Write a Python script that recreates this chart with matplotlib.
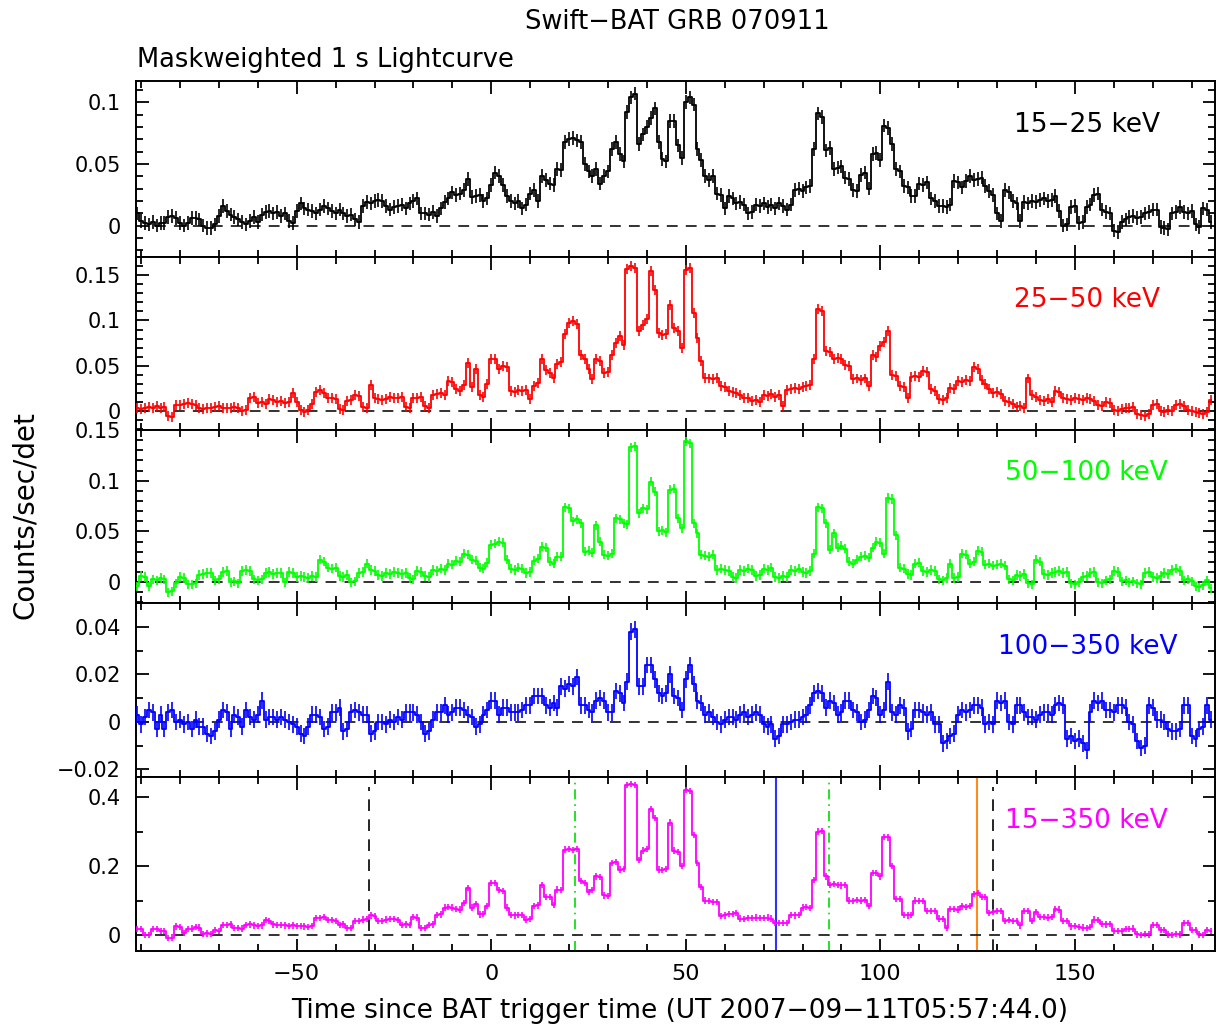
import numpy as np
import matplotlib
matplotlib.use("Agg")
import matplotlib.pyplot as plt
from matplotlib.ticker import MultipleLocator, FuncFormatter

# ---------------- data ----------------
t_first, t_last = -91, 185          # 1-s bin centres (s since trigger)

rate_15_25 = [
    0.010, 0.004, 0.002, 0.001, 0.003, 0.000, 0.002, 0.002, 0.007, 0.008,
    0.006, 0.002, 0.000, 0.002, 0.006, 0.006, 0.005, 0.000, -0.002, -0.002,
    0.001, 0.008, 0.016, 0.012, 0.009, 0.007, 0.005, 0.003, 0.001, 0.004,
    0.007, 0.003, 0.009, 0.011, 0.012, 0.010, 0.011, 0.008, 0.010, 0.004,
    0.002, 0.012, 0.018, 0.014, 0.013, 0.012, 0.010, 0.013, 0.016, 0.014,
    0.012, 0.010, 0.013, 0.010, 0.008, 0.009, 0.005, 0.003, 0.016, 0.019,
    0.018, 0.020, 0.021, 0.020, 0.016, 0.013, 0.015, 0.016, 0.017, 0.014,
    0.018, 0.020, 0.022, 0.010, 0.010, 0.009, 0.011, 0.008, 0.014, 0.019,
    0.022, 0.027, 0.025, 0.026, 0.029, 0.038, 0.023, 0.024, 0.025, 0.020,
    0.022, 0.033, 0.043, 0.040, 0.033, 0.024, 0.020, 0.018, 0.020, 0.014,
    0.017, 0.026, 0.029, 0.020, 0.040, 0.037, 0.034, 0.033, 0.046, 0.045,
    0.068, 0.070, 0.071, 0.069, 0.068, 0.050, 0.044, 0.040, 0.046, 0.034,
    0.040, 0.044, 0.062, 0.068, 0.058, 0.052, 0.092, 0.104, 0.107, 0.066,
    0.074, 0.080, 0.087, 0.095, 0.068, 0.054, 0.052, 0.085, 0.085, 0.065,
    0.055, 0.100, 0.104, 0.098, 0.062, 0.053, 0.040, 0.037, 0.040, 0.026,
    0.025, 0.014, 0.024, 0.022, 0.018, 0.019, 0.017, 0.010, 0.011, 0.017,
    0.016, 0.018, 0.015, 0.017, 0.014, 0.018, 0.016, 0.013, 0.017, 0.029,
    0.030, 0.028, 0.031, 0.032, 0.062, 0.091, 0.088, 0.061, 0.063, 0.046,
    0.047, 0.048, 0.039, 0.038, 0.029, 0.028, 0.041, 0.043, 0.030, 0.058,
    0.059, 0.053, 0.081, 0.079, 0.066, 0.046, 0.044, 0.032, 0.031, 0.024,
    0.024, 0.034, 0.033, 0.035, 0.022, 0.020, 0.016, 0.016, 0.015, 0.017,
    0.036, 0.035, 0.031, 0.036, 0.040, 0.037, 0.038, 0.039, 0.032, 0.028,
    0.025, 0.010, 0.004, 0.029, 0.027, 0.020, 0.018, 0.004, 0.019, 0.018,
    0.020, 0.019, 0.021, 0.022, 0.020, 0.021, 0.024, 0.012, 0.000, 0.001,
    0.015, 0.016, 0.002, 0.003, 0.015, 0.017, 0.025, 0.026, 0.013, 0.011,
    0.010, -0.004, -0.005, 0.003, 0.005, 0.007, 0.008, 0.006, 0.007, 0.010,
    0.011, 0.013, 0.013, -0.001, -0.002, -0.003, 0.010, 0.011, 0.015, 0.011,
    0.010, 0.012, 0.001, -0.001, 0.014, 0.013, 0.003,
]

rate_25_50 = [
    0.003, 0.002, 0.004, 0.005, 0.003, 0.006, 0.004, 0.005, -0.005, -0.006,
    0.007, 0.007, 0.008, 0.009, 0.008, 0.007, 0.003, 0.002, 0.003, 0.004,
    0.005, 0.006, 0.004, 0.004, 0.003, 0.005, 0.004, 0.000, 0.001, 0.014,
    0.016, 0.009, 0.010, 0.008, 0.013, 0.012, 0.010, 0.011, 0.009, 0.010,
    0.020, 0.010, 0.001, -0.001, 0.001, 0.008, 0.021, 0.023, 0.020, 0.014,
    0.015, 0.013, 0.002, 0.001, 0.011, 0.012, 0.018, 0.017, 0.005, 0.004,
    0.029, 0.014, 0.013, 0.012, 0.013, 0.016, 0.015, 0.014, 0.016, 0.005,
    0.004, 0.015, 0.014, 0.016, 0.006, 0.004, 0.018, 0.019, 0.020, 0.018,
    0.033, 0.032, 0.024, 0.022, 0.029, 0.053, 0.027, 0.047, 0.018, 0.016,
    0.030, 0.057, 0.058, 0.047, 0.050, 0.049, 0.022, 0.021, 0.023, 0.022,
    0.023, 0.013, 0.028, 0.031, 0.058, 0.045, 0.042, 0.036, 0.052, 0.054,
    0.085, 0.097, 0.099, 0.096, 0.062, 0.058, 0.046, 0.035, 0.058, 0.055,
    0.042, 0.043, 0.062, 0.075, 0.083, 0.073, 0.157, 0.160, 0.158, 0.088,
    0.095, 0.102, 0.155, 0.134, 0.086, 0.084, 0.085, 0.117, 0.092, 0.088,
    0.070, 0.156, 0.158, 0.108, 0.081, 0.055, 0.037, 0.036, 0.035, 0.037,
    0.028, 0.027, 0.022, 0.021, 0.020, 0.018, 0.015, 0.014, 0.011, 0.012,
    0.010, 0.018, 0.017, 0.019, 0.016, 0.018, 0.006, 0.023, 0.024, 0.025,
    0.024, 0.027, 0.028, 0.029, 0.057, 0.113, 0.110, 0.066, 0.065, 0.057,
    0.059, 0.058, 0.051, 0.050, 0.035, 0.036, 0.034, 0.036, 0.028, 0.062,
    0.060, 0.072, 0.076, 0.088, 0.040, 0.039, 0.028, 0.027, 0.014, 0.038,
    0.039, 0.038, 0.044, 0.043, 0.024, 0.022, 0.013, 0.012, 0.014, 0.025,
    0.024, 0.033, 0.032, 0.034, 0.033, 0.049, 0.046, 0.034, 0.030, 0.024,
    0.020, 0.021, 0.019, 0.011, 0.010, 0.008, 0.005, 0.006, 0.004, 0.036,
    0.018, 0.016, 0.012, 0.011, 0.013, 0.010, 0.022, 0.021, 0.014, 0.013,
    0.012, 0.014, 0.013, 0.012, 0.014, 0.013, 0.011, 0.007, 0.006, 0.010,
    0.009, 0.001, 0.000, 0.002, 0.004, 0.003, 0.005, -0.003, -0.004, -0.005,
    -0.003, 0.007, 0.008, 0.000, -0.001, 0.001, 0.000, 0.007, 0.008, 0.006,
    0.001, 0.000, -0.001, -0.002, -0.003, -0.001, 0.012,
]

rate_50_100 = [
    -0.004, 0.006, 0.005, -0.004, 0.003, 0.002, 0.004, 0.003, -0.010, -0.009,
    -0.001, 0.005, 0.004, -0.002, -0.002, -0.001, 0.007, 0.008, 0.009, 0.009,
    0.002, 0.003, 0.010, 0.011, 0.000, 0.001, -0.001, 0.011, 0.012, 0.011,
    0.003, 0.002, 0.003, 0.009, 0.010, 0.008, 0.009, 0.009, 0.000, 0.010,
    0.009, 0.005, 0.006, 0.005, 0.004, 0.006, 0.005, 0.022, 0.020, 0.014,
    0.013, 0.014, 0.006, 0.005, 0.007, 0.000, 0.001, 0.009, 0.010, 0.018,
    0.012, 0.011, 0.007, 0.006, 0.009, 0.008, 0.010, 0.009, 0.008, 0.009,
    0.004, 0.003, 0.011, 0.010, 0.006, 0.005, 0.012, 0.011, 0.013, 0.012,
    0.018, 0.017, 0.021, 0.020, 0.028, 0.027, 0.022, 0.021, 0.014, 0.013,
    0.019, 0.037, 0.038, 0.040, 0.039, 0.022, 0.013, 0.012, 0.014, 0.013,
    0.009, 0.010, 0.021, 0.023, 0.035, 0.034, 0.020, 0.018, 0.025, 0.025,
    0.074, 0.073, 0.060, 0.062, 0.058, 0.030, 0.031, 0.029, 0.056, 0.040,
    0.027, 0.026, 0.028, 0.063, 0.062, 0.058, 0.057, 0.133, 0.134, 0.068,
    0.073, 0.072, 0.099, 0.089, 0.050, 0.051, 0.049, 0.091, 0.092, 0.063,
    0.053, 0.139, 0.137, 0.058, 0.048, 0.027, 0.026, 0.025, 0.027, 0.012,
    0.013, 0.012, 0.011, 0.005, 0.004, 0.012, 0.011, 0.013, 0.012, 0.006,
    0.007, 0.013, 0.012, 0.014, 0.005, 0.004, 0.006, 0.005, 0.012, 0.011,
    0.013, 0.010, 0.009, 0.011, 0.028, 0.074, 0.073, 0.058, 0.032, 0.048,
    0.034, 0.036, 0.033, 0.020, 0.018, 0.022, 0.025, 0.026, 0.024, 0.034,
    0.040, 0.039, 0.028, 0.083, 0.082, 0.046, 0.014, 0.013, 0.008, 0.007,
    0.018, 0.019, 0.011, 0.010, 0.012, 0.011, 0.003, 0.002, 0.004, 0.018,
    0.004, 0.005, 0.028, 0.027, 0.018, 0.020, 0.031, 0.030, 0.017, 0.018,
    0.016, 0.017, 0.018, 0.016, 0.003, 0.002, 0.007, 0.006, 0.008, -0.001,
    -0.002, 0.022, 0.020, 0.008, 0.007, 0.009, 0.010, 0.011, 0.009, 0.010,
    -0.001, -0.002, 0.000, 0.005, 0.006, 0.009, 0.010, 0.000, -0.001, 0.002,
    0.003, 0.011, 0.010, 0.001, 0.002, 0.000, 0.001, -0.001, -0.002, 0.009,
    0.010, 0.005, 0.004, 0.006, 0.009, 0.008, 0.012, 0.013, 0.011, 0.002,
    0.003, 0.001, -0.004, -0.005, -0.003, 0.002, -0.006,
]

rate_100_350 = [
    0.003, -0.001, 0.002, 0.005, 0.004, -0.003, 0.003, -0.003, 0.004, 0.005,
    0.000, 0.001, -0.001, 0.000, -0.003, 0.001, -0.002, -0.002, -0.005, -0.006,
    -0.004, 0.001, 0.005, 0.004, -0.003, 0.003, 0.002, -0.002, 0.005, 0.002,
    0.001, 0.003, 0.009, 0.001, 0.002, 0.002, 0.001, 0.002, 0.001, 0.000,
    -0.001, -0.002, -0.005, -0.006, -0.002, 0.003, 0.003, 0.002, -0.003, -0.002,
    0.004, 0.004, 0.006, -0.004, -0.003, 0.004, 0.005, 0.004, 0.003, 0.003,
    -0.005, -0.004, 0.000, 0.000, -0.001, 0.001, 0.000, 0.002, 0.001, 0.004,
    0.004, 0.004, 0.003, 0.000, -0.005, -0.004, 0.001, 0.004, 0.004, 0.007,
    0.003, 0.004, 0.006, 0.006, 0.005, 0.003, 0.002, -0.002, -0.001, 0.003,
    0.005, 0.009, 0.009, 0.003, 0.006, 0.006, 0.004, 0.004, 0.004, 0.005,
    0.007, 0.007, 0.011, 0.011, 0.011, 0.007, 0.006, 0.008, 0.006, 0.015,
    0.014, 0.016, 0.015, 0.019, 0.007, 0.007, 0.005, 0.004, 0.009, 0.010,
    0.009, 0.004, 0.004, 0.013, 0.012, 0.008, 0.017, 0.038, 0.039, 0.015,
    0.015, 0.024, 0.024, 0.018, 0.012, 0.011, 0.012, 0.020, 0.011, 0.010,
    0.005, 0.018, 0.024, 0.016, 0.009, 0.008, 0.003, 0.004, 0.002, 0.000,
    -0.001, 0.001, 0.002, 0.002, 0.001, 0.003, 0.004, 0.002, 0.003, 0.004,
    0.003, -0.001, -0.002, -0.001, -0.007, -0.006, -0.001, -0.001, 0.000, 0.001,
    0.001, 0.002, 0.003, 0.007, 0.012, 0.013, 0.012, 0.006, 0.009, 0.008,
    0.003, 0.004, 0.009, 0.009, 0.005, 0.004, 0.000, 0.001, 0.005, 0.011,
    0.010, 0.003, 0.005, 0.017, 0.004, 0.003, 0.007, 0.006, -0.004, -0.003,
    0.005, 0.005, 0.004, 0.003, 0.004, -0.001, -0.001, -0.009, -0.008, -0.006,
    -0.005, 0.003, 0.005, 0.004, 0.005, 0.007, 0.007, 0.006, -0.001, 0.000,
    -0.001, 0.009, 0.008, 0.009, 0.000, -0.001, 0.007, 0.007, 0.004, 0.002,
    0.002, 0.001, 0.003, 0.004, 0.004, 0.003, 0.007, 0.008, 0.007, -0.007,
    -0.006, -0.008, -0.007, -0.009, -0.012, 0.004, 0.009, 0.008, 0.009, 0.005,
    0.005, 0.004, 0.007, 0.007, 0.006, 0.000, -0.001, -0.008, -0.011, -0.010,
    0.007, 0.006, 0.001, 0.001, 0.000, -0.003, -0.004, -0.004, -0.003, 0.007,
    0.007, -0.006, -0.007, -0.003, -0.002, 0.007, 0.001,
]

rate_15_350 = [
    0.018, 0.017, 0.001, 0.000, 0.018, 0.017, 0.013, 0.011, -0.008, -0.007,
    0.025, 0.023, 0.007, 0.018, 0.019, 0.023, 0.022, 0.004, 0.005, 0.003,
    0.014, 0.013, 0.030, 0.029, 0.031, 0.021, 0.020, 0.019, 0.030, 0.031,
    0.028, 0.027, 0.028, 0.043, 0.042, 0.031, 0.030, 0.029, 0.028, 0.027,
    0.028, 0.027, 0.026, 0.025, 0.024, 0.026, 0.050, 0.049, 0.052, 0.043,
    0.044, 0.042, 0.030, 0.031, 0.020, 0.021, 0.040, 0.041, 0.045, 0.046,
    0.057, 0.056, 0.040, 0.041, 0.045, 0.046, 0.047, 0.044, 0.030, 0.031,
    0.029, 0.052, 0.051, 0.020, 0.021, 0.030, 0.031, 0.058, 0.060, 0.080,
    0.081, 0.080, 0.075, 0.074, 0.093, 0.137, 0.080, 0.090, 0.060, 0.061,
    0.085, 0.150, 0.152, 0.130, 0.128, 0.080, 0.058, 0.057, 0.059, 0.058,
    0.045, 0.046, 0.085, 0.086, 0.145, 0.110, 0.111, 0.088, 0.132, 0.131,
    0.248, 0.250, 0.247, 0.249, 0.157, 0.150, 0.125, 0.130, 0.170, 0.168,
    0.115, 0.114, 0.210, 0.212, 0.190, 0.191, 0.435, 0.437, 0.434, 0.217,
    0.245, 0.250, 0.365, 0.340, 0.190, 0.188, 0.192, 0.326, 0.245, 0.240,
    0.200, 0.420, 0.418, 0.290, 0.210, 0.140, 0.100, 0.098, 0.095, 0.096,
    0.055, 0.057, 0.062, 0.061, 0.063, 0.048, 0.047, 0.049, 0.050, 0.051,
    0.049, 0.050, 0.051, 0.048, 0.035, 0.036, 0.035, 0.034, 0.058, 0.057,
    0.059, 0.080, 0.081, 0.079, 0.160, 0.300, 0.302, 0.170, 0.145, 0.147,
    0.146, 0.144, 0.145, 0.100, 0.098, 0.101, 0.100, 0.102, 0.085, 0.180,
    0.180, 0.170, 0.285, 0.283, 0.200, 0.105, 0.104, 0.058, 0.057, 0.059,
    0.100, 0.099, 0.098, 0.070, 0.071, 0.069, 0.048, 0.047, 0.020, 0.075,
    0.076, 0.074, 0.083, 0.082, 0.084, 0.120, 0.121, 0.110, 0.111, 0.065,
    0.066, 0.070, 0.071, 0.042, 0.043, 0.041, 0.042, 0.028, 0.070, 0.069,
    0.042, 0.068, 0.052, 0.053, 0.051, 0.052, 0.075, 0.074, 0.042, 0.041,
    0.025, 0.026, 0.024, 0.022, 0.021, 0.023, 0.045, 0.044, 0.032, 0.031,
    0.033, 0.012, 0.011, 0.013, 0.018, 0.017, 0.019, 0.002, 0.001, 0.003,
    0.002, 0.030, 0.029, 0.015, 0.014, 0.002, 0.001, 0.003, 0.002, 0.035,
    0.034, 0.015, 0.014, 0.002, 0.001, 0.014, 0.013,
]

band_labels = ["15\u221225 keV", "25\u221250 keV", "50\u2212100 keV", "100\u2212350 keV", "15\u2212350 keV"]
band_errors = [0.0055, 0.0055, 0.0045, 0.0035, 0.009]
band_colors = ["#000000", "#ff0000", "#00ff00", "#0000ff", "#ff00ff"]
band_ylims = [(-0.0254, 0.1172), (-0.0208, 0.170), (-0.0206, 0.150), (-0.0232, 0.0501), (-0.046, 0.458)]
band_major = [0.05, 0.05, 0.05, 0.02, 0.2]
band_minor = [0.01, 0.01, 0.01, 0.01, 0.1]

# marker times in the 15-350 keV panel
t100_bounds = [-31.3, 129.0]
t90_bounds = [21.5, 86.7]
t_blue = 73.3
t_orange = 124.9

xlim = (-91.3, 186.0)

# ---------------- plotting ----------------
W, H = 1216, 1026
fig = plt.figure(figsize=(W / 100, H / 100), dpi=100)
plt.rcParams['font.family'] = ['DejaVu Sans']

times = np.arange(t_first, t_last + 1)
series = [rate_15_25, rate_25_50, rate_50_100, rate_100_350, rate_15_350]

left_px, right_px = 136, 1215
edges_px = [81, 257, 430, 603, 777, 951]
label_right_px = [1160, 1160, 1168, 1178, 1168]
FS = 15
FS_TXT = 19

def fmt(v, pos):
    s = "%g" % round(v, 6)
    if s == "-0":
        s = "0"
    return s.replace("-", "\u2212")

axes = []
for i in range(5):
    top, bot = edges_px[i], edges_px[i + 1]
    ax = fig.add_axes([left_px / W, 1 - bot / H, (right_px - left_px) / W, (bot - top) / H])
    axes.append(ax)
    v = np.array(series[i])
    c = band_colors[i]
    ax.step(times, v, where='mid', color=c, lw=1.3, zorder=3)
    ax.errorbar(times, v, yerr=band_errors[i], fmt='none', ecolor=c, elinewidth=1.2, zorder=3)
    ax.axhline(0, color='#222222', ls=(0, (6, 4.5)), lw=1.3, zorder=2)
    ax.set_xlim(*xlim)
    ax.set_ylim(*band_ylims[i])
    ax.xaxis.set_major_locator(MultipleLocator(50))
    ax.xaxis.set_minor_locator(MultipleLocator(10))
    ax.yaxis.set_major_locator(MultipleLocator(band_major[i]))
    ax.yaxis.set_minor_locator(MultipleLocator(band_minor[i]))
    ax.yaxis.set_major_formatter(FuncFormatter(fmt))
    ax.xaxis.set_major_formatter(FuncFormatter(fmt))
    ax.tick_params(which='both', direction='in', top=True, right=True, width=1.3, colors='black')
    ax.tick_params(which='major', length=9)
    ax.tick_params(which='minor', length=5)
    ax.tick_params(axis='y', which='major', labelsize=FS, pad=11)
    ax.tick_params(axis='x', which='major', labelsize=FS + 1, pad=9)
    if i < 4:
        ax.tick_params(axis='x', labelbottom=False)
    for sp in ax.spines.values():
        sp.set_linewidth(1.4)
    xr = (label_right_px[i] - left_px) / (right_px - left_px)
    ax.text(xr, 0.75, band_labels[i], transform=ax.transAxes, ha='right', va='center',
            color=c, fontsize=FS_TXT)

ax5 = axes[4]
for tb in t100_bounds:
    ax5.axvline(tb, ymax=0.94, color='black', ls=(0, (7, 5)), lw=1.2, zorder=1)
for tb in t90_bounds:
    ax5.axvline(tb, ymax=0.97, color='#00dd00', ls=(0, (6, 3, 1, 3)), lw=1.2, zorder=1)
ax5.axvline(t_blue, color='#3030ff', lw=1.5, zorder=1)
ax5.axvline(t_orange, color='#ff8c1a', lw=1.5, zorder=1)

fig.text(677 / W, 1 - 22 / H, "Swift\u2212BAT GRB 070911", ha='center', va='center', fontsize=18.5)
fig.text(137 / W, 1 - 60 / H, "Maskweighted 1 s Lightcurve", ha='left', va='center', fontsize=18.5)
fig.text(680 / W, 1 - 1011 / H, "Time since BAT trigger time (UT 2007\u221209\u221211T05:57:44.0)",
         ha='center', va='center', fontsize=19)
fig.text(25 / W, 1 - 515 / H, "Counts/sec/det", ha='center', va='center', rotation=90, fontsize=20)

fig.savefig("out.png", dpi=100)
